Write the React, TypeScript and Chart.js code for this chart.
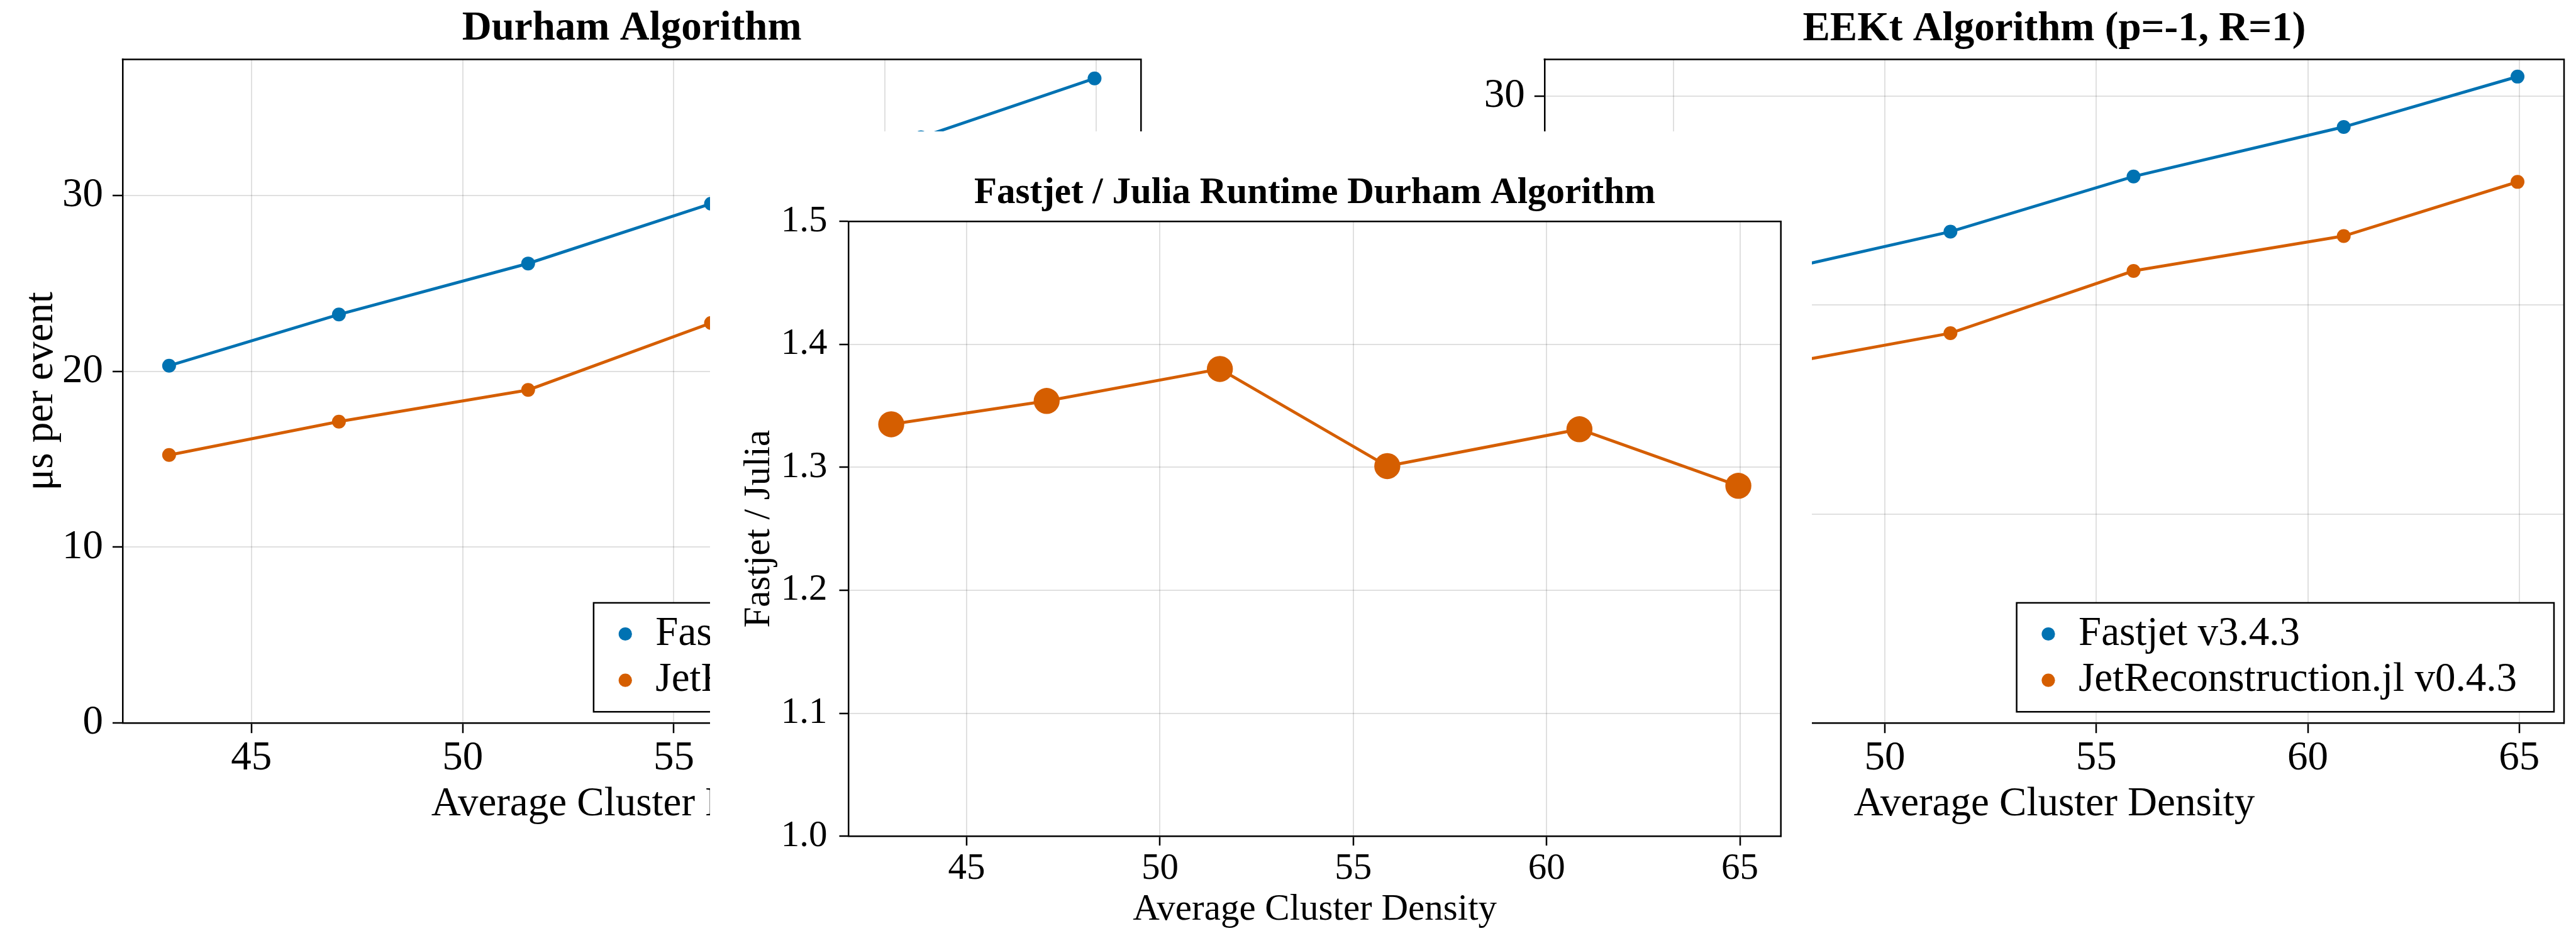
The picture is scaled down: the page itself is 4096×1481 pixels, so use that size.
import React, { useEffect, useRef } from 'react';
import { Chart, registerables } from 'chart.js';

Chart.register(...registerables);

// ---- data ----
const density = [43.05, 47.07, 51.55, 55.88, 60.85, 64.96];
const durhamFastjet = [20.32, 23.23, 26.13, 29.53, 33.3, 36.65];
const durhamJulia = [15.24, 17.14, 18.94, 22.75, 25.0, 28.5];
const eektFastjet = [18.9, 21.47, 23.52, 26.16, 28.53, 30.94];
const eektJulia = [14.54, 17.0, 18.66, 21.64, 23.31, 25.9];
const durhamRatio = [1.335, 1.354, 1.38, 1.301, 1.331, 1.285];

const seriesLabels = ['Fastjet v3.4.3', 'JetReconstruction.jl v0.4.3'];
const xTickValues = [45, 50, 55, 60, 65];
const timeTickValues = [0, 10, 20, 30];
const ratioTickValues = [1.0, 1.1, 1.2, 1.3, 1.4, 1.5];
const xRange = [41.95, 66.06];
const durhamYRange = [0, 37.73];
const eektYRange = [0, 31.76];
const ratioYRange = [1.0, 1.5];

const BLUE = '#0072B2';
const ORANGE = '#D55E00';
const GRID = 'rgba(0,0,0,0.12)';
const FAMILY = "'Liberation Serif', 'Times New Roman', serif";

type Area = { left: number; top: number; right: number; bottom: number };
type Series = { label: string; color: string; values: number[] };
type PanelProps = {
  box: { left: number; top: number; width: number; height: number };
  area: Area;
  title: string;
  titleBaseline: number;
  fontSize: number;
  series: Series[];
  yRange: number[];
  yTicks: number[];
  yDecimals: number;
  yTitle?: string;
  yTitlePad?: number;
  yTickPad: number;
  xTickPad: number;
  xTitlePad: number;
  tickLen: number;
  pointRadius: number;
  legend: boolean;
  background?: string;
};

function Panel(p: PanelProps) {
  const ref = useRef<HTMLCanvasElement | null>(null);
  useEffect(() => {
    const canvas = ref.current;
    if (!canvas) return;
    const font = { family: FAMILY, size: p.fontSize, lineHeight: 1 };
    const decor = {
      id: 'decor',
      afterDraw(chart: any) {
        const ctx = chart.ctx as CanvasRenderingContext2D;
        const ca = chart.chartArea;
        ctx.save();
        // top and right spines
        ctx.strokeStyle = '#000';
        ctx.lineWidth = 2.5;
        ctx.beginPath();
        ctx.moveTo(ca.left - 1.25, ca.top);
        ctx.lineTo(ca.right, ca.top);
        ctx.lineTo(ca.right, ca.bottom + 1.25);
        ctx.stroke();
        // title
        ctx.fillStyle = '#000';
        ctx.font = `bold ${p.fontSize}px ${FAMILY}`;
        ctx.textAlign = 'center';
        ctx.textBaseline = 'alphabetic';
        ctx.fillText(p.title, (ca.left + ca.right) / 2, p.titleBaseline);
        // legend
        if (p.legend) {
          const s = 0.942;
          const bw = 907 * s;
          const bh = 184 * s;
          const bx = ca.right - 17 * s - bw;
          const by = ca.bottom - 19 * s - bh;
          ctx.fillStyle = '#fff';
          ctx.fillRect(bx, by, bw, bh);
          ctx.strokeStyle = '#000';
          ctx.lineWidth = 2.5;
          ctx.strokeRect(bx, by, bw, bh);
          const rows = [52.6 * s, 130.8 * s];
          chart.data.datasets.forEach((ds: any, i: number) => {
            const cy = by + rows[i];
            ctx.fillStyle = ds.borderColor;
            ctx.beginPath();
            ctx.arc(bx + 53.5 * s, cy, 10.6, 0, Math.PI * 2);
            ctx.fill();
            ctx.fillStyle = '#000';
            ctx.font = `${p.fontSize}px ${FAMILY}`;
            ctx.textAlign = 'left';
            ctx.textBaseline = 'middle';
            ctx.fillText(ds.label, bx + 104.5 * s, cy);
          });
        }
        ctx.restore();
      },
    };
    const W = p.box.width;
    const H = p.box.height;
    const gridOpts = {
      color: GRID,
      lineWidth: 2,
      drawTicks: true,
      tickLength: p.tickLen,
      tickColor: '#000',
      tickWidth: 2.5,
    };
    const chart = new Chart(canvas, {
      type: 'line',
      data: {
        datasets: p.series.map((s) => ({
          label: s.label,
          data: density.map((x, i) => ({ x, y: s.values[i] })),
          borderColor: s.color,
          backgroundColor: s.color,
          pointBackgroundColor: s.color,
          pointBorderWidth: 0,
          pointRadius: p.pointRadius,
          pointHoverRadius: p.pointRadius,
          borderWidth: 4.8,
          tension: 0,
          fill: false,
        })),
      },
      options: {
        animation: false,
        responsive: false,
        devicePixelRatio: 1,
        layout: {
          padding: { left: 0, top: p.area.top, right: W - p.area.right, bottom: 0 },
        },
        plugins: {
          legend: { display: false },
          tooltip: { enabled: false },
          title: { display: false },
        },
        scales: {
          x: {
            type: 'linear',
            min: xRange[0],
            max: xRange[1],
            bounds: 'data',
            afterBuildTicks: (sc: any) => {
              sc.ticks = xTickValues.map((v) => ({ value: v }));
            },
            afterFit: (sc: any) => {
              sc.height = H - p.area.bottom;
            },
            ticks: {
              autoSkip: false,
              maxRotation: 0,
              padding: p.xTickPad,
              color: '#000',
              font,
              callback: (v: any) => String(v),
            },
            grid: gridOpts,
            border: { display: true, color: '#000', width: 2.5 },
            title: {
              display: true,
              text: 'Average Cluster Density',
              color: '#000',
              font,
              padding: { top: 0, bottom: p.xTitlePad },
            },
          },
          y: {
            type: 'linear',
            min: p.yRange[0],
            max: p.yRange[1],
            bounds: 'data',
            afterBuildTicks: (sc: any) => {
              sc.ticks = p.yTicks.map((v) => ({ value: v }));
            },
            afterFit: (sc: any) => {
              sc.width = p.area.left;
            },
            ticks: {
              autoSkip: false,
              padding: p.yTickPad,
              color: '#000',
              font,
              callback: (v: any) => Number(v).toFixed(p.yDecimals),
            },
            grid: gridOpts,
            border: { display: true, color: '#000', width: 2.5 },
            title: {
              display: !!p.yTitle,
              text: p.yTitle || '',
              color: '#000',
              font,
              padding: { top: p.yTitlePad || 0, bottom: 0 },
            },
          },
        },
      } as any,
      plugins: [decor],
    });
    return () => chart.destroy();
  }, []);
  return (
    <canvas
      ref={ref}
      width={p.box.width}
      height={p.box.height}
      style={{
        position: 'absolute',
        left: p.box.left,
        top: p.box.top,
        width: p.box.width,
        height: p.box.height,
        background: p.background || 'transparent',
      }}
    />
  );
}

export default function App() {
  useEffect(() => {
    document.body.style.margin = '0';
    document.body.style.overflow = 'hidden';
  }, []);
  return (
    <div
      style={{
        position: 'absolute',
        left: 0,
        top: 0,
        width: 4096,
        height: 1481,
        overflow: 'hidden',
        background: '#fff',
      }}
    >
      <Panel
        box={{ left: 0, top: 0, width: 1846, height: 1481 }}
        area={{ left: 195, top: 94.6, right: 1814.3, bottom: 1150.2 }}
        title="Durham Algorithm"
        titleBaseline={63}
        fontSize={65}
        series={[
          { label: seriesLabels[0], color: BLUE, values: durhamFastjet },
          { label: seriesLabels[1], color: ORANGE, values: durhamJulia },
        ]}
        yRange={durhamYRange}
        yTicks={timeTickValues}
        yDecimals={0}
        yTitle="μs per event"
        yTitlePad={33.5}
        yTickPad={15}
        xTickPad={8}
        xTitlePad={168.6}
        tickLen={16}
        pointRadius={11}
        legend={true}
      />
      <Panel
        box={{ left: 2166, top: 0, width: 1930, height: 1481 }}
        area={{ left: 289.8, top: 94.6, right: 1911, bottom: 1150.2 }}
        title="EEKt Algorithm (p=-1, R=1)"
        titleBaseline={63.5}
        fontSize={65}
        series={[
          { label: seriesLabels[0], color: BLUE, values: eektFastjet },
          { label: seriesLabels[1], color: ORANGE, values: eektJulia },
        ]}
        yRange={eektYRange}
        yTicks={timeTickValues}
        yDecimals={0}
        yTickPad={15}
        xTickPad={8}
        xTitlePad={168.6}
        tickLen={16}
        pointRadius={11}
        legend={true}
      />
      <Panel
        box={{ left: 1129, top: 209, width: 1752, height: 1272 }}
        area={{ left: 220.5, top: 143.3, right: 1702.7, bottom: 1121.1 }}
        title="Fastjet / Julia Runtime Durham Algorithm"
        titleBaseline={113.8}
        fontSize={59}
        series={[{ label: 'Fastjet / Julia', color: ORANGE, values: durhamRatio }]}
        yRange={ratioYRange}
        yTicks={ratioTickValues}
        yDecimals={1}
        yTitle="Fastjet / Julia"
        yTitlePad={49.1}
        yTickPad={19}
        xTickPad={8.3}
        xTitlePad={3.8}
        tickLen={15}
        pointRadius={20.7}
        legend={false}
        background="#fff"
      />
    </div>
  );
}
